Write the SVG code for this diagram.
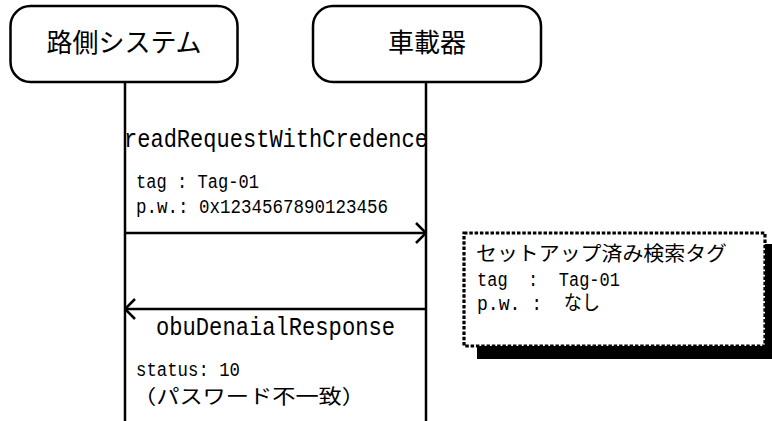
<svg xmlns="http://www.w3.org/2000/svg" width="772" height="421" viewBox="0 0 772 421">
<style>
.box{fill:#fff;stroke:#000;stroke-width:2.5}
.life{stroke:#000;stroke-width:2.5;fill:none}
.msg{stroke:#000;stroke-width:2.5;fill:none}
.title{font-family:"Noto Sans CJK JP","Noto Sans",sans-serif;font-size:26px;fill:#000;text-anchor:middle}
.big{font-family:"Liberation Mono","Noto Sans CJK JP",monospace;font-size:26px;fill:#000}
.lbl{font-family:"Liberation Mono","Noto Sans CJK JP",monospace;font-size:20px;fill:#000}
.jp{font-family:"Noto Sans CJK JP",sans-serif;font-size:20px;fill:#000}
.note{fill:#fff;stroke:#000;stroke-width:3.2;stroke-dasharray:3.5 1.8}
</style>
<defs>
<marker id="arr" viewBox="0 0 12 22" refX="11" refY="11" markerWidth="12" markerHeight="22" markerUnits="userSpaceOnUse" orient="auto">
<path d="M1,1 L11,11 L1,21" fill="none" stroke="#000" stroke-width="2.5"/>
</marker>
</defs>
<g id="node-roadside">
<rect class="box" x="10.5" y="6" width="227" height="76" rx="20" ry="20"/>
<text class="title" x="124" y="52">路側システム</text>
<line class="life" x1="125" y1="82" x2="125" y2="421"/>
</g>
<g id="node-obu">
<rect class="box" x="313" y="6" width="228" height="76" rx="20" ry="20"/>
<text class="title" x="427" y="52">車載器</text>
<line class="life" x1="426" y1="82" x2="426" y2="421"/>
</g>
<g id="connectors">
<line class="msg" x1="125" y1="233" x2="426" y2="233" marker-end="url(#arr)"/>
<line class="msg" x1="426" y1="309" x2="125" y2="309" marker-end="url(#arr)"/>
</g>
<g id="labels">
<text class="big" x="124" y="147" textLength="304" lengthAdjust="spacingAndGlyphs">readRequestWithCredence</text>
<text class="lbl" x="136" y="188" textLength="123" lengthAdjust="spacingAndGlyphs">tag : Tag-01</text>
<text class="lbl" x="136" y="213" textLength="252" lengthAdjust="spacingAndGlyphs">p.w.: 0x1234567890123456</text>
<text class="big" x="156" y="335" textLength="239" lengthAdjust="spacingAndGlyphs">obuDenaialResponse</text>
<text class="lbl" x="136" y="376" textLength="104" lengthAdjust="spacingAndGlyphs">status: 10</text>
<text class="jp" x="133" y="404" font-size="19" textLength="232" lengthAdjust="spacingAndGlyphs">（パスワード不一致）</text>
</g>
<g id="note-tag">
<rect x="477" y="244" width="300" height="115" fill="#000"/>
<rect class="note" x="464" y="233" width="301" height="113"/>
<text class="jp" x="476" y="261" textLength="251" lengthAdjust="spacingAndGlyphs">セットアップ済み検索タグ</text>
<text class="lbl" x="477" y="286" textLength="143" lengthAdjust="spacingAndGlyphs" xml:space="preserve">tag  :  Tag-01</text>
<text class="lbl" x="477" y="310" textLength="123" lengthAdjust="spacingAndGlyphs" xml:space="preserve">p.w. :  なし</text>
</g>
</svg>
